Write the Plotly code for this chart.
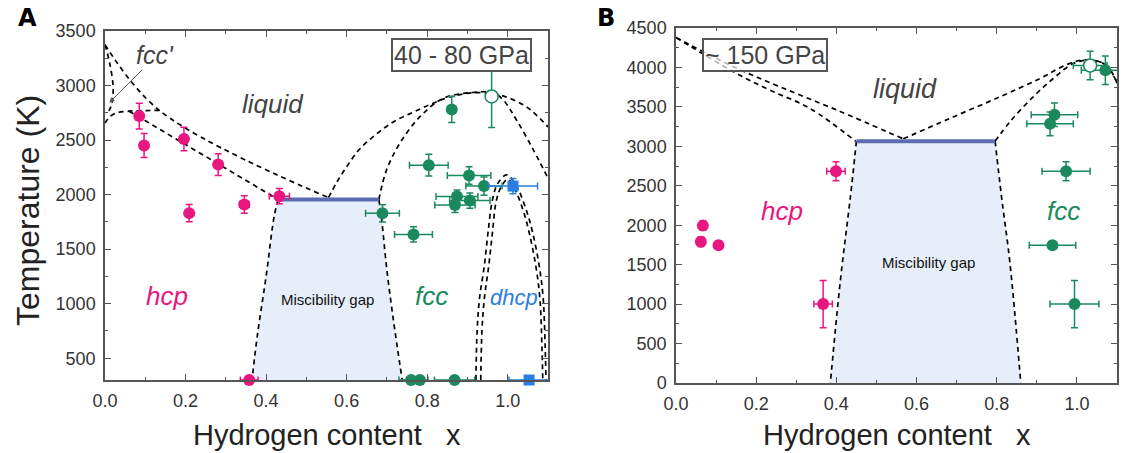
import plotly.graph_objects as go

# ---------------- Panel A (40 - 80 GPa) data ----------------
hcpA_x    = [0.085, 0.097, 0.196, 0.209, 0.281, 0.346, 0.433, 0.358]
hcpA_T    = [2720, 2450, 2510, 1830, 2275, 1910, 1985, 300]
hcpA_xerr = [0.006, 0.0, 0.0, 0.0, 0.0, 0.012, 0.025, 0.022]
hcpA_Terr = [118, 110, 108, 80, 100, 80, 70, 0]

fccA_x    = [0.861, 0.804, 0.904, 0.941, 0.874, 0.869, 0.906, 0.689, 0.766, 0.760, 0.782, 0.868]
fccA_T    = [2780, 2270, 2175, 2078, 1982, 1905, 1945, 1828, 1635, 300, 300, 300]
fccA_xerr = [0.0, 0.048, 0.054, 0.045, 0.052, 0.05, 0.05, 0.042, 0.047, 0.03, 0.02, 0.05]
fccA_Terr = [120, 99, 80, 84, 60, 70, 70, 80, 70, 0, 0, 0]

openA_x, openA_T, openA_Terr = [0.960], [2900], [285]

dhcpA_x    = [1.013, 1.053]
dhcpA_T    = [2078, 300]
dhcpA_xerr = [0.061, 0.05]
dhcpA_Terr = [70, 0]

# phase boundaries, panel A
fccp_steep_x = [0.0, 0.012, 0.02, 0.019, 0.014, 0.008]
fccp_steep_T = [3375, 3200, 3000, 2880, 2800, 2760]
liqA_left_x = [0.0, 0.135, 0.555]
liqA_left_T = [3375, 2772, 1972]
hcp_top_x = [0.0, 0.012, 0.03, 0.06, 0.1, 0.135]
hcp_top_T = [2655, 2715, 2750, 2765, 2770, 2772]
hcp_sol_x = [0.06, 0.43]
hcp_sol_T = [2765, 1955]
liqA_out_x = [0.555, 0.575, 0.596, 0.631, 0.676, 0.72, 0.765, 0.81, 0.856, 0.922, 0.98, 1.046, 1.1]
liqA_out_T = [1972, 2110, 2233, 2412, 2561, 2675, 2755, 2830, 2895, 2935, 2913, 2806, 2620]
liqA_in_x = [0.68, 0.699, 0.732, 0.782, 0.84, 0.906, 0.964, 0.989, 1.022, 1.064, 1.1]
liqA_in_T = [1955, 2225, 2470, 2714, 2883, 2934, 2934, 2867, 2683, 2408, 2150]
dhcp1_x = [0.921, 0.924, 0.93, 0.942, 0.951, 0.962, 0.975, 0.997, 1.02, 1.045, 1.062, 1.078, 1.088, 1.093, 1.095]
dhcp1_T = [300, 750, 1050, 1350, 1650, 1950, 2100, 2180, 2090, 1870, 1650, 1350, 1050, 600, 300]
dhcp2_x = [0.933, 0.936, 0.942, 0.953, 0.962, 0.972, 0.985, 1.0, 1.016, 1.038, 1.054, 1.07, 1.08, 1.085, 1.087]
dhcp2_T = [300, 750, 1050, 1350, 1650, 1950, 2080, 2140, 2060, 1860, 1640, 1340, 1040, 600, 300]
gapA_left_x = [0.43, 0.42, 0.40, 0.378, 0.365]
gapA_left_T = [1955, 1800, 1250, 700, 300]
gapA_right_x = [0.68, 0.687, 0.699, 0.715, 0.738]
gapA_right_T = [1955, 1770, 1340, 880, 300]

# ---------------- Panel B (~150 GPa) data ----------------
hcpB_x    = [0.067, 0.062, 0.106, 0.367, 0.399]
hcpB_T    = [1995, 1790, 1745, 1000, 2685]
hcpB_xerr = [0.008, 0.008, 0.008, 0.023, 0.023]
hcpB_Terr = [60, 60, 50, 300, 120]

fccB_x    = [0.944, 0.933, 0.973, 0.939, 0.994, 1.071]
fccB_T    = [3400, 3285, 2685, 1745, 1000, 3965]
fccB_xerr = [0.058, 0.058, 0.06, 0.058, 0.061, 0.06]
fccB_Terr = [150, 150, 120, 0, 300, 180]

openB_x, openB_T, openB_xerr, openB_Terr = [1.033], [4025], [0.042], [180]

liqB_up_x = [0.0, 0.143, 0.259, 0.401, 0.567]
liqB_up_T = [4380, 4010, 3755, 3460, 3095]
liqB_lo_x = [0.0, 0.143, 0.234, 0.334, 0.448]
liqB_lo_T = [4380, 3946, 3713, 3481, 3065]
liqB_r1_x = [0.567, 0.683, 0.808, 0.908, 0.974, 1.016, 1.066, 1.09, 1.1]
liqB_r1_T = [3095, 3354, 3628, 3860, 4035, 4095, 4050, 3900, 3820]
liqB_r2_x = [0.796, 0.833, 0.891, 0.941, 0.991, 1.032, 1.074, 1.095, 1.1]
liqB_r2_T = [3065, 3312, 3628, 3860, 4050, 4094, 4030, 3860, 3800]
gapB_left_x = [0.45, 0.435, 0.41, 0.385]
gapB_left_T = [3065, 2360, 1300, 0]
gapB_right_x = [0.796, 0.812, 0.833, 0.86]
gapB_right_T = [3065, 2360, 1520, 0]

x_ticks = [0.0, 0.2, 0.4, 0.6, 0.8, 1.0]

# ---------------- styles ----------------
PINK = "#e8177f"
GREEN = "#1a8a5c"
BLUE = "#2a7de1"
GAPFILL = "#e6eff9"
GAPLINE = "#5b6cb3"
FONT = "Liberation Sans, Arial, sans-serif"
DASH = dict(color="black", width=1.7, dash="5px,4px")
W, H = 1130, 453

fig = go.Figure()


def add_line(xs, ys, ax):
    fig.add_trace(go.Scatter(x=xs, y=ys, mode="lines", line=DASH, line_shape="spline",
                             xaxis=ax[0], yaxis=ax[1], hoverinfo="skip", showlegend=False))


def add_gap(lx, lT, rx, rT, ax):
    fig.add_trace(go.Scatter(x=list(reversed(lx)) + list(rx), y=list(reversed(lT)) + list(rT),
                             mode="lines", line=dict(width=0), fill="toself", fillcolor=GAPFILL,
                             xaxis=ax[0], yaxis=ax[1], hoverinfo="skip", showlegend=False))


def add_pts(xs, ys, xe, ye, color, ax, symbol="circle", size=12, open_=False):
    fig.add_trace(go.Scatter(
        x=xs, y=ys, mode="markers", xaxis=ax[0], yaxis=ax[1], cliponaxis=False,
        marker=dict(symbol=symbol, size=size, color="white" if open_ else color,
                    line=dict(color=color, width=1.6 if open_ else 0)),
        error_x=dict(type="data", array=xe, color=color, thickness=1.5, width=3.5, visible=True),
        error_y=dict(type="data", array=ye, color=color, thickness=1.5, width=3.5, visible=True),
        hoverinfo="skip", showlegend=False))


A = ("x", "y")
B = ("x2", "y2")

# Panel A
add_gap(gapA_left_x, gapA_left_T, gapA_right_x, gapA_right_T, A)
for xs, ys in [(fccp_steep_x, fccp_steep_T), (liqA_left_x, liqA_left_T), (hcp_top_x, hcp_top_T),
               (hcp_sol_x, hcp_sol_T), (liqA_out_x, liqA_out_T), (liqA_in_x, liqA_in_T),
               (dhcp1_x, dhcp1_T), (dhcp2_x, dhcp2_T), (gapA_left_x, gapA_left_T),
               (gapA_right_x, gapA_right_T)]:
    add_line(xs, ys, A)
fig.add_trace(go.Scatter(x=[gapA_left_x[0], gapA_right_x[0]], y=[gapA_left_T[0], gapA_right_T[0]],
                         mode="lines", line=dict(color=GAPLINE, width=4), xaxis="x", yaxis="y",
                         hoverinfo="skip", showlegend=False))
add_pts(hcpA_x, hcpA_T, hcpA_xerr, hcpA_Terr, PINK, A)
add_pts(fccA_x, fccA_T, fccA_xerr, fccA_Terr, GREEN, A)
add_pts(openA_x, openA_T, [0], openA_Terr, GREEN, A, open_=True, size=13)
add_pts(dhcpA_x, dhcpA_T, dhcpA_xerr, dhcpA_Terr, BLUE, A, symbol="square", size=11)

# Panel B
add_gap(gapB_left_x, gapB_left_T, gapB_right_x, gapB_right_T, B)
for xs, ys in [(liqB_up_x, liqB_up_T), (liqB_lo_x, liqB_lo_T), (liqB_r1_x, liqB_r1_T),
               (liqB_r2_x, liqB_r2_T), (gapB_left_x, gapB_left_T), (gapB_right_x, gapB_right_T)]:
    add_line(xs, ys, B)
fig.add_trace(go.Scatter(x=[gapB_left_x[0], gapB_right_x[0]], y=[gapB_left_T[0], gapB_right_T[0]],
                         mode="lines", line=dict(color=GAPLINE, width=4), xaxis="x2", yaxis="y2",
                         hoverinfo="skip", showlegend=False))
add_pts(hcpB_x, hcpB_T, hcpB_xerr, hcpB_Terr, PINK, B)
add_pts(fccB_x, fccB_T, fccB_xerr, fccB_Terr, GREEN, B)
add_pts(openB_x, openB_T, openB_xerr, openB_Terr, GREEN, B, open_=True, size=13)

axis_common = dict(
    showline=True, linecolor="#555", linewidth=1.5, mirror="allticks",
    ticks="inside", ticklen=6, tickwidth=1.2, tickcolor="#555",
    showgrid=False, zeroline=False, automargin=False,
    tickfont=dict(family=FONT, size=18, color="#333"),
)
xminor = dict(ticks="inside", ticklen=3, dtick=0.1, tickcolor="#555", tick0=0)
yminor = dict(ticks="inside", ticklen=3, dtick=250, tickcolor="#555", tick0=0)

fig.update_layout(
    width=W, height=H, autosize=False,
    margin=dict(l=0, r=0, t=0, b=0, pad=0, autoexpand=False),
    paper_bgcolor="white", plot_bgcolor="white",
    font=dict(family=FONT),
    xaxis=dict(domain=[105 / W, 548 / W], range=[0, 1.1], anchor="y", tickvals=x_ticks,
               ticktext=[f"{v:.1f}" for v in x_ticks], minor=xminor,
               ticklabelstandoff=4, **axis_common),
    yaxis=dict(domain=[1 - 380 / H, 1 - 31 / H], range=[300, 3500], anchor="x", dtick=500, tick0=0,
               minor=yminor, ticklabelstandoff=4, **axis_common),
    xaxis2=dict(domain=[676 / W, 1117 / W], range=[0, 1.1], anchor="y2", tickvals=x_ticks,
                ticktext=[f"{v:.1f}" for v in x_ticks], minor=xminor,
                ticklabelstandoff=4, **axis_common),
    yaxis2=dict(domain=[1 - 383 / H, 1 - 28 / H], range=[0, 4500], anchor="x2", dtick=500, tick0=0,
                minor=yminor, ticklabelstandoff=4, **axis_common),
)

ann = []


def txt(x, y, s, size, color, ax=A, **kw):
    d = dict(x=x, y=y, xref=ax[0], yref=ax[1], text=s, showarrow=False,
             xanchor="center", yanchor="middle",
             font=dict(family=FONT, size=size, color=color))
    d.update(kw)
    ann.append(d)


# Panel A labels
txt(0.417, 2830, "<i>liquid</i>", 26, "#444")
txt(0.154, 1072, "<i>hcp</i>", 26, PINK)
txt(0.81, 1072, "<i>fcc</i>", 26, GREEN)
txt(1.015, 1057, "<i>dhcp</i>", 22, BLUE)
txt(0.553, 1042, "Miscibility gap", 15, "#111")
txt(0.125, 3280, "<i>fcc'</i>", 25, "#444")
txt(0.886, 3278, "40 - 80 GPa", 25, "#444", bordercolor="#555", borderwidth=2,
    borderpad=1, bgcolor="white")
ann.append(dict(x=0.011, y=2845, ax=0.096, ay=3158, xref="x", yref="y", axref="x", ayref="y",
                showarrow=True, arrowhead=2, arrowsize=1, arrowwidth=1, arrowcolor="#555", text=""))

# Panel B labels
txt(0.572, 3725, "<i>liquid</i>", 27, "#444", ax=B)
txt(0.265, 2175, "<i>hcp</i>", 26, PINK, ax=B)
txt(0.966, 2175, "<i>fcc</i>", 26, GREEN, ax=B)
txt(0.631, 1529, "Miscibility gap", 15, "#111", ax=B)
txt(0.221, 4164, "~ 150 GPa", 25, "#444", ax=B, bordercolor="#555", borderwidth=2,
    borderpad=1, bgcolor="rgba(255,255,255,0.7)")


def paper_text(px, py, s, size, color, family=FONT, angle=0):
    ann.append(dict(x=px / W, y=1 - py / H, xref="paper", yref="paper", text=s,
                    xanchor="center", yanchor="middle", textangle=angle, showarrow=False,
                    font=dict(family=family, size=size, color=color)))


paper_text(27, 18, "<b>A</b>", 24, "black", family="DejaVu Sans, Liberation Sans")
paper_text(606, 18, "<b>B</b>", 24, "black", family="DejaVu Sans, Liberation Sans")
paper_text(28, 211, "Temperature (K)", 32, "#222", angle=-90)
paper_text((105 + 548) / 2, 435, "Hydrogen content   x", 29, "#222")
paper_text((676 + 1117) / 2, 435, "Hydrogen content   x", 29, "#222")

fig.update_layout(annotations=ann)
fig.write_html("out.html", config={"displayModeBar": False},
               post_script="document.body.style.margin='0';document.body.style.overflow='hidden';")
